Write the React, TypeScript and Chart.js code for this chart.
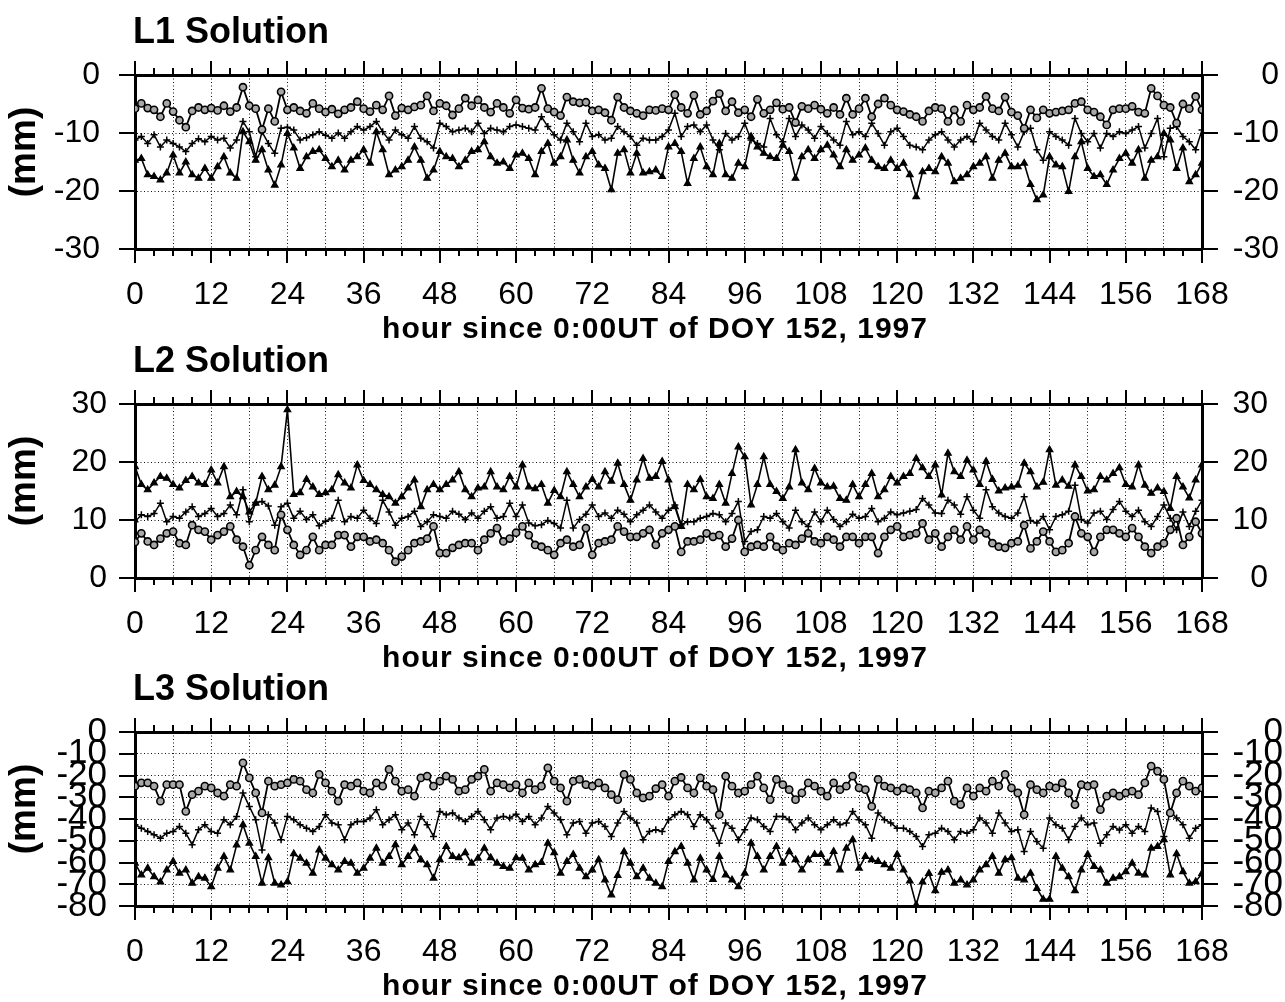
import React, { useEffect, useRef } from 'react';
import { Chart, registerables } from 'chart.js';

Chart.register(...registerables);

// ---------------- data ----------------
// hourly samples, hour 0 .. 168
const HOURS: number[] = Array.from({ length: 169 }, (_, i) => i);

const PANEL_TITLES = ['L1 Solution', 'L2 Solution', 'L3 Solution'];
const X_TITLE = 'hour since 0:00UT of DOY 152, 1997';
const Y_TITLE = '(mm)';

const X_TICK_VALUES = [0, 12, 24, 36, 48, 60, 72, 84, 96, 108, 120, 132, 144, 156, 168];
const X_TICK_LABELS = ['0', '12', '24', '36', '48', '60', '72', '84', '96', '108', '120', '132', '144', '156', '168'];

const L1_Y_TICKS = [0, -10, -20, -30];
const L1_Y_LABELS = ['0', '-10', '-20', '-30'];
const L2_Y_TICKS = [30, 20, 10, 0];
const L2_Y_LABELS = ['30', '20', '10', '0'];
const L3_Y_TICKS = [0, -10, -20, -30, -40, -50, -60, -70, -80];
const L3_Y_LABELS = ['0', '-10', '-20', '-30', '-40', '-50', '-60', '-70', '-80'];

// L1 solution (mm)
const L1_CIRCLE = [
  -5.8, -4.9, -5.7, -6.0, -7.2, -4.9, -6.3, -7.8, -9.0, -6.2, -5.6, -6.0,
  -5.7, -6.1, -5.3, -6.3, -5.6, -2.1, -5.3, -5.8, -9.4, -5.8, -8.0, -2.9,
  -6.0, -5.6, -6.2, -6.6, -4.9, -5.8, -6.4, -5.9, -6.7, -6.0, -5.6, -4.6,
  -5.8, -6.3, -5.2, -6.0, -3.6, -7.0, -5.7, -6.0, -5.5, -5.2, -3.6, -6.2,
  -4.9, -5.3, -6.9, -5.8, -4.0, -5.3, -4.3, -5.6, -6.4, -4.9, -5.6, -6.6,
  -4.3, -5.7, -5.9, -5.6, -2.3, -5.8, -6.4, -7.0, -3.8, -4.6, -4.8, -4.7,
  -6.2, -6.0, -6.5, -7.8, -3.8, -5.6, -6.2, -6.6, -7.0, -6.0, -6.1, -5.8,
  -6.0, -3.4, -5.6, -6.6, -3.5, -6.8, -6.2, -4.5, -3.2, -6.2, -4.6, -6.5,
  -6.0, -7.2, -4.2, -6.6, -6.0, -4.8, -5.9, -5.6, -8.2, -5.4, -5.8, -5.2,
  -5.9, -6.6, -5.6, -6.8, -4.0, -6.8, -5.8, -4.0, -7.2, -5.0, -4.0, -5.2,
  -6.0, -6.3, -6.8, -7.2, -8.0, -6.2, -5.6, -5.8, -8.0, -6.0, -8.0, -5.2,
  -6.0, -5.6, -3.7, -5.8, -6.2, -3.8, -6.4, -7.0, -9.2, -6.0, -7.4, -6.0,
  -6.6, -6.4, -6.2, -6.0, -4.9, -4.6, -6.0, -6.4, -7.2, -8.6, -6.0, -5.8,
  -5.8, -5.4, -6.4, -6.6, -2.3, -3.6, -5.2, -5.6, -8.3, -5.0, -5.8, -3.7,
  -6.0,
];
const L1_PLUS = [
  -11.2, -10.6, -11.8, -10.3, -12.4, -11.2, -11.8, -12.4, -13.2, -11.8, -11.0, -11.5,
  -10.6, -11.2, -10.9, -12.6, -11.2, -8.0, -9.8, -14.1, -9.8, -11.8, -13.5, -9.2,
  -9.0, -9.5, -11.2, -10.8, -10.3, -9.8, -10.4, -10.9, -10.0, -10.9, -9.8, -8.9,
  -9.5, -8.9, -8.0, -9.8, -11.2, -9.5, -10.3, -10.9, -8.9, -10.9, -11.5, -12.6,
  -8.3, -8.9, -9.8, -9.5, -9.2, -9.8, -8.3, -10.1, -9.2, -9.5, -9.8, -8.9,
  -8.6, -8.9, -9.2, -9.5, -7.2, -8.9, -10.3, -11.2, -8.3, -9.8, -11.5, -8.3,
  -10.6, -10.3, -11.2, -10.9, -8.9, -9.8, -10.6, -12.1, -10.9, -11.2, -11.2, -10.6,
  -9.5, -6.6, -10.6, -8.9, -8.6, -9.8, -8.6, -11.2, -12.9, -10.1, -11.2, -10.6,
  -8.3, -11.2, -11.8, -12.4, -7.5, -10.3, -11.5, -7.5, -10.6, -8.6, -9.5, -10.9,
  -8.9, -10.1, -11.2, -12.1, -8.0, -10.3, -9.8, -10.6, -8.3, -10.1, -12.1, -9.8,
  -9.2, -10.6, -12.1, -12.4, -12.9, -11.2, -10.3, -9.8, -11.2, -12.4, -11.2, -10.6,
  -11.5, -8.3, -9.5, -10.6, -11.2, -8.3, -10.3, -12.4, -9.8, -9.2, -12.9, -14.7,
  -9.8, -10.6, -11.2, -12.1, -7.5, -10.1, -11.5, -10.1, -12.6, -10.1, -10.6, -9.8,
  -10.1, -9.5, -8.9, -12.6, -10.1, -7.5, -14.1, -9.2, -8.9, -10.6, -11.5, -12.9,
  -9.5,
];
const L1_TRIANGLE = [
  -14.7, -14.4, -17.2, -17.5, -18.1, -16.9, -13.8, -16.9, -15.0, -17.2, -17.8, -16.1,
  -17.8, -15.8, -14.1, -16.9, -17.8, -9.8, -11.5, -14.7, -12.9, -16.4, -19.0, -15.5,
  -10.1, -12.6, -16.1, -14.1, -13.2, -12.9, -14.4, -15.8, -14.7, -16.4, -14.7, -14.1,
  -12.9, -15.2, -9.8, -12.9, -17.2, -16.4, -15.8, -14.7, -12.4, -14.7, -17.8, -16.4,
  -13.2, -14.1, -14.4, -15.8, -14.7, -13.2, -12.9, -11.5, -14.1, -15.2, -15.0, -16.1,
  -13.8, -13.5, -14.4, -17.2, -13.2, -11.8, -15.2, -14.1, -11.2, -14.7, -16.9, -14.1,
  -13.2, -15.5, -16.1, -19.8, -13.5, -12.9, -16.9, -13.5, -16.9, -16.7, -16.4, -17.5,
  -12.4, -11.8, -13.2, -18.7, -14.4, -12.4, -15.8, -17.2, -11.8, -17.2, -17.8, -15.2,
  -15.8, -10.6, -12.4, -13.5, -14.1, -14.4, -12.1, -13.2, -17.8, -14.1, -12.9, -14.4,
  -12.9, -12.1, -13.8, -15.8, -12.9, -14.7, -13.8, -12.6, -14.7, -15.8, -16.1, -14.7,
  -16.1, -15.2, -17.2, -21.0, -16.7, -16.1, -16.7, -14.1, -15.2, -18.4, -17.8, -17.2,
  -15.8, -15.2, -14.1, -17.8, -14.7, -13.5, -15.8, -15.8, -15.2, -18.9, -21.5, -20.7,
  -14.1, -15.5, -15.8, -20.1, -14.1, -11.5, -16.1, -17.5, -17.2, -18.9, -16.4, -14.4,
  -13.5, -15.2, -12.9, -17.8, -14.7, -14.1, -10.1, -11.2, -16.1, -12.6, -18.4, -17.2,
  -15.2,
];

// L2 solution (mm)
const L2_CIRCLE = [
  6.2, 7.7, 6.3, 5.7, 6.8, 7.7, 8.0, 6.0, 5.7, 9.1, 8.3, 8.0,
  6.6, 7.4, 8.0, 8.9, 6.6, 5.4, 2.2, 4.8, 7.1, 5.7, 4.8, 10.9,
  8.3, 5.7, 4.0, 4.8, 7.1, 4.8, 5.7, 5.7, 7.4, 7.4, 5.4, 7.1,
  7.1, 6.3, 6.6, 6.0, 4.8, 2.8, 3.7, 4.8, 6.0, 6.3, 6.8, 8.9,
  4.3, 4.3, 5.2, 5.7, 6.0, 6.0, 4.8, 6.6, 7.7, 8.6, 6.3, 6.8,
  7.8, 8.9, 7.4, 5.7, 5.4, 4.8, 4.0, 6.0, 6.6, 5.4, 5.7, 8.6,
  4.0, 6.0, 6.3, 6.6, 8.9, 8.0, 7.1, 7.1, 7.7, 8.3, 5.7, 7.7,
  8.3, 8.9, 4.5, 6.3, 6.3, 6.6, 7.7, 7.1, 7.4, 5.4, 6.8, 10.0,
  4.5, 5.4, 5.7, 5.4, 7.1, 5.4, 4.8, 6.0, 5.7, 6.8, 7.7, 6.3,
  6.0, 7.1, 6.6, 5.4, 7.1, 7.1, 6.0, 7.1, 7.1, 4.3, 7.1, 8.3,
  8.9, 7.1, 7.4, 7.7, 9.4, 6.6, 7.7, 5.4, 7.1, 8.3, 6.6, 8.9,
  6.6, 8.3, 7.7, 6.0, 5.4, 5.2, 6.0, 6.3, 9.1, 5.1, 6.3, 8.0,
  6.3, 4.5, 4.8, 6.0, 10.6, 7.7, 7.1, 4.5, 7.1, 8.3, 8.3, 7.7,
  7.1, 8.6, 7.1, 5.4, 4.3, 5.4, 6.0, 8.3, 10.3, 5.7, 7.1, 9.7,
  7.7,
];
const L2_PLUS = [
  9.7, 10.9, 10.6, 11.1, 12.9, 9.7, 10.6, 10.3, 11.4, 12.3, 10.6, 11.1,
  12.0, 10.6, 11.1, 12.6, 10.9, 15.2, 9.7, 13.0, 13.2, 12.4, 9.1, 12.3,
  12.9, 10.3, 11.5, 10.1, 10.9, 9.0, 9.8, 10.3, 13.4, 9.7, 10.6, 10.3,
  11.7, 10.3, 9.4, 13.4, 11.4, 9.1, 10.3, 10.6, 11.5, 8.9, 9.7, 10.9,
  10.6, 10.3, 11.5, 11.0, 10.1, 11.2, 10.3, 11.5, 12.3, 10.3, 10.6, 12.9,
  10.6, 12.6, 9.5, 9.0, 9.2, 9.9, 9.4, 8.6, 13.4, 8.6, 10.1, 11.0,
  12.6, 10.6, 11.2, 10.3, 11.7, 11.0, 9.7, 10.9, 11.7, 12.6, 11.4, 10.3,
  11.7, 12.6, 9.2, 9.7, 9.7, 10.3, 10.6, 11.1, 10.9, 9.7, 11.1, 13.2,
  6.3, 8.0, 8.3, 10.6, 10.3, 11.1, 9.7, 8.6, 11.7, 9.7, 8.9, 11.4,
  9.7, 11.7, 10.1, 8.9, 9.7, 11.0, 10.3, 10.6, 12.0, 9.7, 10.3, 11.4,
  10.9, 11.2, 11.5, 11.8, 13.7, 12.6, 11.2, 11.1, 13.4, 12.6, 11.0, 14.0,
  11.7, 10.3, 15.2, 12.3, 11.2, 10.6, 10.3, 11.2, 14.0, 9.9, 9.5, 10.6,
  8.3, 10.6, 10.9, 11.5, 16.0, 10.1, 9.5, 11.2, 11.5, 10.1, 11.8, 13.2,
  11.5, 10.6, 11.7, 9.7, 8.9, 10.6, 12.6, 10.3, 8.3, 11.4, 8.9, 11.5,
  13.4,
];
const L2_TRIANGLE = [
  19.2, 16.1, 15.2, 16.4, 17.5, 17.2, 16.1, 15.5, 16.8, 17.5, 16.4, 16.1,
  18.6, 16.4, 19.2, 14.0, 14.9, 14.0, 11.4, 12.9, 17.5, 15.2, 16.0, 19.2,
  29.0, 14.4, 14.7, 17.0, 15.7, 14.4, 14.7, 15.2, 17.8, 16.4, 15.5, 19.5,
  16.8, 16.1, 15.2, 14.4, 14.0, 12.9, 14.0, 15.5, 16.9, 12.3, 15.2, 16.1,
  15.2, 16.1, 16.9, 18.3, 15.2, 14.0, 15.5, 15.7, 18.3, 15.7, 15.2, 17.5,
  15.7, 19.5, 15.7, 15.4, 16.1, 12.9, 15.1, 14.0, 18.3, 16.1, 14.0, 15.7,
  17.0, 15.7, 18.3, 16.7, 19.8, 16.1, 13.4, 16.9, 20.6, 17.2, 17.5, 20.1,
  16.9, 12.3, 8.9, 16.1, 15.2, 17.0, 14.0, 13.7, 16.1, 12.9, 18.0, 22.6,
  20.9, 12.6, 16.1, 20.9, 16.1, 14.9, 13.7, 15.7, 22.1, 16.4, 15.2, 18.9,
  16.4, 15.7, 15.8, 13.7, 13.4, 16.1, 14.0, 16.1, 18.0, 14.0, 15.2, 17.5,
  16.4, 17.5, 18.0, 20.6, 19.0, 17.5, 19.5, 14.3, 21.5, 18.3, 17.5, 20.3,
  18.6, 16.1, 20.1, 17.0, 15.0, 15.5, 15.7, 16.0, 19.8, 18.3, 15.7, 16.5,
  22.1, 16.0, 16.9, 15.8, 19.5, 17.5, 15.0, 15.2, 17.5, 16.9, 18.0, 19.0,
  16.1, 15.7, 19.5, 16.0, 14.6, 15.5, 14.9, 12.0, 17.5, 15.7, 13.8, 16.9,
  19.5,
];

// L3 solution (mm)
const L3_CIRCLE = [
  -24.9, -23.4, -23.4, -24.9, -31.8, -24.2, -24.2, -24.2, -36.5, -28.8, -27.2, -24.9,
  -25.7, -28.0, -29.5, -24.2, -24.9, -14.2, -21.1, -28.0, -37.2, -22.6, -24.9, -24.2,
  -23.4, -21.8, -22.6, -26.5, -28.0, -19.5, -23.4, -27.2, -31.8, -24.2, -24.9, -23.4,
  -27.2, -28.0, -23.4, -24.9, -17.2, -22.6, -27.2, -26.5, -29.5, -21.1, -20.3, -24.9,
  -22.6, -20.3, -21.8, -27.2, -26.5, -21.8, -20.3, -17.2, -27.2, -23.4, -24.2, -25.7,
  -24.2, -28.0, -23.4, -26.5, -24.9, -16.5, -22.6, -25.7, -31.8, -22.6, -21.8, -24.2,
  -24.9, -23.4, -25.7, -28.8, -31.1, -19.5, -21.8, -28.0, -30.3, -29.5, -26.0, -24.2,
  -29.5, -22.6, -20.9, -25.7, -28.0, -21.1, -24.9, -26.5, -38.0, -20.3, -24.9, -28.0,
  -27.2, -24.2, -20.3, -25.7, -31.1, -21.8, -24.2, -26.5, -31.1, -28.0, -23.4, -24.9,
  -27.2, -29.5, -23.4, -26.5, -24.9, -20.3, -25.7, -26.5, -34.2, -21.8, -24.9, -25.7,
  -27.2, -25.7, -26.5, -28.0, -34.9, -27.2, -28.0, -25.7, -22.6, -31.8, -33.4, -25.7,
  -29.5, -25.7, -27.2, -22.6, -24.9, -19.5, -25.7, -28.0, -38.0, -24.2, -26.5, -28.0,
  -24.9, -25.7, -23.4, -28.0, -33.4, -24.2, -24.9, -24.2, -35.7, -29.5, -28.0, -29.5,
  -28.0, -27.2, -28.8, -23.4, -15.7, -18.0, -21.8, -37.2, -28.0, -22.6, -24.9, -27.2,
  -25.7,
];
const L3_PLUS = [
  -42.6, -44.2, -45.7, -47.2, -48.8, -46.5, -45.7, -43.4, -46.5, -51.8, -44.9, -42.6,
  -45.7, -46.5, -40.3, -42.6, -38.8, -28.0, -34.2, -40.3, -54.2, -38.0, -41.8, -49.5,
  -38.8, -40.3, -42.6, -44.2, -45.7, -43.4, -38.0, -41.8, -42.6, -49.5, -42.6, -41.1,
  -41.1, -39.5, -35.7, -42.6, -40.3, -38.0, -44.9, -41.8, -47.2, -38.8, -42.6, -48.0,
  -36.5, -38.0, -37.2, -39.5, -41.1, -38.8, -36.5, -40.3, -44.9, -39.5, -38.8, -39.5,
  -37.8, -41.1, -38.8, -42.6, -39.5, -34.2, -37.2, -40.3, -47.2, -41.8, -41.1, -46.5,
  -41.8, -41.1, -43.4, -48.0, -41.8, -36.5, -39.5, -41.8, -49.5, -45.7, -44.9, -45.7,
  -40.3, -38.0, -36.5, -38.0, -43.4, -38.0, -40.3, -44.2, -51.1, -41.8, -44.2, -49.5,
  -44.9, -39.5, -40.3, -43.4, -45.7, -38.8, -38.8, -40.3, -44.9, -41.8, -39.5, -42.6,
  -44.9, -42.6, -40.3, -42.6, -41.8, -36.5, -40.3, -42.6, -48.8, -37.2, -40.3, -41.8,
  -44.2, -44.2, -45.7, -48.0, -52.6, -47.2, -46.5, -44.2, -45.7, -49.5, -45.7, -46.5,
  -44.9, -39.5, -41.8, -46.5, -37.2, -41.8, -45.7, -44.9, -54.9, -45.7, -50.3, -53.4,
  -39.5, -42.6, -44.2, -49.5, -43.4, -39.5, -42.6, -41.8, -51.1, -47.2, -43.4, -45.0,
  -42.6, -46.5, -43.4, -45.7, -34.9, -36.5, -48.0, -36.5, -39.5, -42.6, -48.8, -44.2,
  -42.6,
];
const L3_TRIANGLE = [
  -60.3, -65.7, -62.6, -66.5, -69.0, -63.4, -59.5, -64.9, -63.4, -69.5, -66.5, -67.2,
  -71.1, -62.6, -57.2, -63.4, -52.0, -42.6, -51.1, -57.2, -69.5, -57.8, -69.5, -70.3,
  -68.8, -56.0, -58.0, -60.3, -64.9, -54.2, -58.0, -61.0, -63.4, -59.5, -60.3, -64.9,
  -62.6, -58.0, -53.4, -60.3, -57.2, -51.8, -61.0, -57.2, -53.4, -58.7, -61.0, -67.2,
  -58.7, -52.6, -57.2, -57.8, -55.5, -60.3, -58.0, -53.4, -57.8, -60.3, -61.8, -62.6,
  -57.8, -58.0, -63.4, -61.0, -60.0, -51.1, -55.5, -64.9, -59.5, -56.3, -62.6, -66.5,
  -63.4, -58.7, -68.0, -74.9, -66.0, -55.0, -60.3, -66.5, -62.6, -67.2, -69.5, -71.1,
  -59.5, -55.0, -52.6, -60.3, -68.0, -58.0, -63.4, -67.8, -57.2, -65.7, -68.0, -71.1,
  -64.9, -51.1, -57.2, -63.4, -57.2, -52.6, -60.3, -55.0, -58.7, -63.4, -58.7, -56.3,
  -56.3, -60.3, -54.9, -63.4, -53.4, -49.5, -62.6, -57.2, -58.7, -59.5, -61.0, -62.6,
  -56.3, -63.4, -68.5, -79.5, -69.0, -65.0, -73.0, -64.5, -63.4, -69.5, -68.0, -70.3,
  -68.0, -63.4, -61.0, -57.2, -64.9, -58.7, -57.8, -67.2, -68.0, -64.9, -71.9, -76.9,
  -76.9, -57.2, -62.6, -66.5, -73.0, -63.4, -56.3, -61.8, -63.4, -69.5, -67.2, -66.5,
  -64.2, -60.3, -64.9, -65.7, -53.4, -52.6, -49.5, -65.7, -56.0, -64.2, -69.5, -68.8,
  -65.0,
];

// ---------------- layout / style ----------------
const FONT = "'Liberation Sans', Arial, Helvetica, sans-serif";
const CANVAS_W = 1285;
const CANVAS_H = 345;
const PLOT_LEFT = 135;
const PLOT_RIGHT = 1202;
const PLOT_TOP = 75;
const PLOT_BOTTOM = 249;
const X_MIN = 0;
const X_MAX = 168;
const X_GRID_STEP = 6;
const X_MINOR_STEP = 3;
const X_MAJOR_STEP = 12;

type Panel = {
  title: string;
  circle: number[];
  plus: number[];
  tri: number[];
  yTicks: number[];
  yLabels: string[];
  top: number;
  yFont: number;
  leftLabelRight: number;
  rightLabelRight: number;
};

const PANELS: Panel[] = [
  { title: PANEL_TITLES[0], circle: L1_CIRCLE, plus: L1_PLUS, tri: L1_TRIANGLE, yTicks: L1_Y_TICKS, yLabels: L1_Y_LABELS, top: 0, yFont: 32, leftLabelRight: 100, rightLabelRight: 1279 },
  { title: PANEL_TITLES[1], circle: L2_CIRCLE, plus: L2_PLUS, tri: L2_TRIANGLE, yTicks: L2_Y_TICKS, yLabels: L2_Y_LABELS, top: 329, yFont: 32, leftLabelRight: 107, rightLabelRight: 1268 },
  { title: PANEL_TITLES[2], circle: L3_CIRCLE, plus: L3_PLUS, tri: L3_TRIANGLE, yTicks: L3_Y_TICKS, yLabels: L3_Y_LABELS, top: 657, yFont: 35, leftLabelRight: 107, rightLabelRight: 1283 },
];

function decorPlugin(p: Panel) {
  return {
    id: 'decor',
    afterDraw(chart: any) {
      const { ctx, chartArea: a } = chart;
      const xs = chart.scales.x;
      const ys = chart.scales.y;
      ctx.save();
      ctx.strokeStyle = '#000';
      ctx.lineWidth = 2;
      ctx.beginPath();
      for (let h = X_MIN; h <= X_MAX; h += X_MINOR_STEP) {
        const x = Math.round(xs.getPixelForValue(h));
        const len = h % X_MAJOR_STEP === 0 ? 14 : 7;
        ctx.moveTo(x, a.top);
        ctx.lineTo(x, a.top - len);
        ctx.moveTo(x, a.bottom);
        ctx.lineTo(x, a.bottom + len);
      }
      ys.ticks.forEach((t: any) => {
        const y = Math.round(ys.getPixelForValue(t.value));
        ctx.moveTo(a.left, y);
        ctx.lineTo(a.left - 16, y);
        ctx.moveTo(a.right, y);
        ctx.lineTo(a.right + 16, y);
      });
      ctx.stroke();

      ctx.fillStyle = '#000';
      // panel title
      ctx.font = `bold 36px ${FONT}`;
      ctx.textAlign = 'left';
      ctx.textBaseline = 'alphabetic';
      ctx.fillText(p.title, 133, 43);
      // y title
      ctx.save();
      ctx.translate(25, 152);
      ctx.rotate(-Math.PI / 2);
      ctx.textAlign = 'center';
      ctx.textBaseline = 'middle';
      ctx.font = `bold 37px ${FONT}`;
      ctx.fillText(Y_TITLE, 0, 0);
      ctx.restore();
      // x title
      ctx.font = `bold 30px ${FONT}`;
      ctx.textAlign = 'center';
      (ctx as any).letterSpacing = '1px';
      ctx.fillText(X_TITLE, 655, 338);
      (ctx as any).letterSpacing = '0px';
      ctx.restore();
    },
  };
}

function buildChart(canvas: HTMLCanvasElement, p: Panel) {
  const yMin = Math.min(...p.yTicks);
  const yMax = Math.max(...p.yTicks);
  const yLabel = (v: number) => {
    const i = p.yTicks.indexOf(v);
    return i >= 0 ? p.yLabels[i] : '';
  };
  const rightPad = CANVAS_W - p.rightLabelRight;
  const gridDash = [1, 2.5];
  return new Chart(canvas, {
    type: 'line',
    data: {
      labels: HOURS,
      datasets: [
        {
          label: 'circle',
          data: p.circle,
          borderColor: '#000',
          borderWidth: 1.8,
          pointStyle: 'circle',
          pointRadius: 3.6,
          pointBorderWidth: 1.6,
          pointBorderColor: '#000',
          pointBackgroundColor: '#a8a8a8',
          tension: 0,
        },
        {
          label: 'plus',
          data: p.plus,
          borderColor: '#000',
          borderWidth: 1.5,
          pointStyle: 'cross',
          pointRadius: 3.5,
          pointBorderWidth: 1.5,
          pointBorderColor: '#000',
          tension: 0,
        },
        {
          label: 'triangle',
          data: p.tri,
          borderColor: '#000',
          borderWidth: 1.6,
          pointStyle: 'triangle',
          pointRadius: 3.8,
          pointBorderWidth: 1.2,
          pointBorderColor: '#000',
          pointBackgroundColor: '#000',
          tension: 0,
        },
      ],
    },
    options: {
      animation: false,
      responsive: false,
      devicePixelRatio: 1,
      events: [],
      layout: { padding: { left: 0, right: rightPad, top: 0, bottom: 0 } },
      plugins: {
        legend: { display: false },
        tooltip: { enabled: false },
        title: { display: false },
      },
      scales: {
        x: {
          type: 'linear',
          position: 'bottom',
          min: X_MIN,
          max: X_MAX,
          ticks: {
            stepSize: X_GRID_STEP,
            autoSkip: false,
            maxRotation: 0,
            minRotation: 0,
            padding: 27,
            color: '#000',
            font: { family: FONT, size: 32 },
            callback: (v: any) => {
              const i = X_TICK_VALUES.indexOf(Number(v));
              return i >= 0 ? X_TICK_LABELS[i] : '';
            },
          },
          grid: {
            drawTicks: false,
            lineWidth: 1,
            color: (c: any) => {
              const v = c.tick ? c.tick.value : null;
              return v === X_MIN || v === X_MAX ? 'rgba(0,0,0,0)' : '#111';
            },
          },
          border: { display: true, width: 3, color: '#000', dash: gridDash },
          afterFit: (s: any) => {
            s.height = CANVAS_H - PLOT_BOTTOM;
          },
        },
        xTop: {
          type: 'linear',
          position: 'top',
          min: X_MIN,
          max: X_MAX,
          ticks: { display: false },
          grid: { display: false, drawTicks: false },
          border: { display: true, width: 3, color: '#000' },
          afterFit: (s: any) => {
            s.height = PLOT_TOP;
          },
        },
        y: {
          type: 'linear',
          position: 'left',
          min: yMin,
          max: yMax,
          ticks: {
            stepSize: 10,
            autoSkip: false,
            padding: PLOT_LEFT - p.leftLabelRight,
            color: '#000',
            font: { family: FONT, size: p.yFont },
            callback: (v: any) => yLabel(Number(v)),
          },
          grid: {
            drawTicks: false,
            lineWidth: 1,
            color: (c: any) => {
              const v = c.tick ? c.tick.value : null;
              return v === yMin || v === yMax ? 'rgba(0,0,0,0)' : '#111';
            },
          },
          border: { display: true, width: 3, color: '#000', dash: gridDash },
          afterFit: (s: any) => {
            s.width = PLOT_LEFT;
          },
        },
        yRight: {
          type: 'linear',
          position: 'right',
          min: yMin,
          max: yMax,
          ticks: {
            stepSize: 10,
            autoSkip: false,
            crossAlign: 'far',
            color: '#000',
            font: { family: FONT, size: p.yFont },
            callback: (v: any) => yLabel(Number(v)),
          },
          grid: { display: false, drawTicks: false },
          border: { display: true, width: 3, color: '#000' },
          afterFit: (s: any) => {
            s.width = CANVAS_W - rightPad - PLOT_RIGHT;
          },
        },
      },
    } as any,
    plugins: [decorPlugin(p)],
  });
}

function PanelChart({ panel }: { panel: Panel }) {
  const ref = useRef<HTMLCanvasElement | null>(null);
  useEffect(() => {
    if (!ref.current) return;
    const chart = buildChart(ref.current, panel);
    return () => chart.destroy();
  }, [panel]);
  return (
    <canvas
      ref={ref}
      width={CANVAS_W}
      height={CANVAS_H}
      style={{ position: 'absolute', left: 0, top: panel.top, width: CANVAS_W, height: CANVAS_H, display: 'block' }}
    />
  );
}

export default function App() {
  return (
    <div style={{ position: 'absolute', left: 0, top: 0, width: 1285, height: 1002, overflow: 'hidden', background: '#fff' }}>
      {PANELS.map((p) => (
        <PanelChart key={p.title} panel={p} />
      ))}
    </div>
  );
}
